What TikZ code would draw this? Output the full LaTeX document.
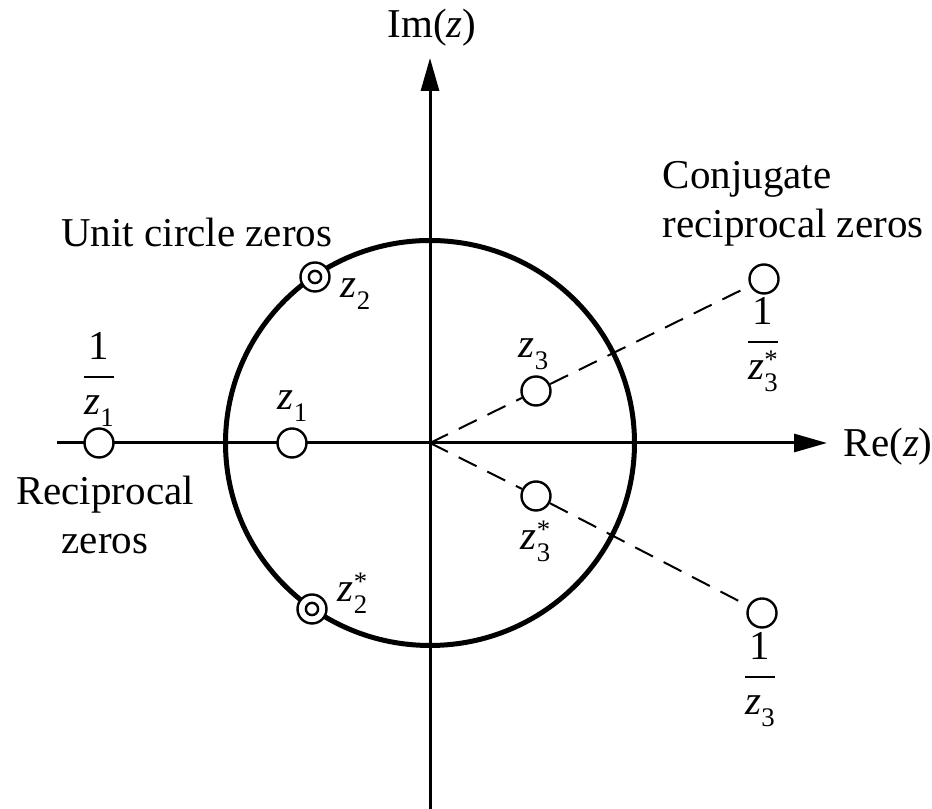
\documentclass[tikz,border=0pt]{standalone}
\usepackage{fontspec}
\setmainfont{Liberation Serif}
\usetikzlibrary{arrows.meta}
\newcommand{\zsym}[2]{\textit{z}\makebox[0pt][l]{\raisebox{0.27em}{\fontsize{6.7}{7}\selectfont #2}}\raisebox{-0.29em}{\fontsize{6.7}{7}\selectfont #1}}
\newcommand{\recip}[1]{$\displaystyle\frac{\textrm{1}}{\hbox{#1}}$}
\begin{document}
\begin{tikzpicture}[x=0.25pt,y=-0.25pt]
\tikzset{
  lab/.style={font=\fontsize{10.25}{12.3}\selectfont, inner sep=0pt},
  axisline/.style={line width=0.75pt, -{Triangle[length=8.25pt,width=4.5pt]}},
  ucirc/.style={line width=1.25pt},
  zero/.style={circle, draw, fill=white, line width=0.6pt, inner sep=0pt, minimum size=7.25pt},
  ringline/.style={line width=0.6pt},
  dashline/.style={line width=0.5pt, dash pattern=on 5pt off 3pt}
}
\useasboundingbox (0,0) rectangle (932,809);
\coordinate (O) at (430,443);
\coordinate (reL) at (57,443);
\coordinate (reR) at (827,443);
\coordinate (imB) at (430,809);
\coordinate (imT) at (430,58);
\draw[axisline] (reL) -- (reR);
\draw[axisline] (imB) -- (imT);
\draw[ucirc] (O) ellipse [x radius=51.125pt, y radius=50.625pt];
% zeros
\node[zero] (z1) at (292,443) {};
\node[zero] (rz1) at (99,443) {};
\node[zero] (z2) at (315,277) {};
\node[zero] (z2c) at (312,609) {};
\draw[ringline] (z2.center) circle[radius=1.53pt];
\draw[ringline] (z2c.center) circle[radius=1.53pt];
\node[zero] (z3) at (536,391) {};
\node[zero] (z3c) at (536,496) {};
\node[zero] (rz3c) at (764,279) {};
\node[zero] (rz3) at (762,613) {};
\draw[dashline] (O) -- (z3);
\draw[dashline] (z3) -- (rz3c);
\draw[dashline] (O) -- (z3c);
\draw[dashline] (z3c) -- (rz3);
% labels
\node[lab, anchor=base] (imlab) at (432,38) {Im(\textit{z})};
\node[lab, anchor=base west] (relab) at (843,457) {Re(\textit{z})};
\node[lab, anchor=base east] (uclab) at (333,247) {Unit circle zeros};
\node[lab, anchor=base west] (z2lab) at (340,298) {\zsym{2}{}};
\node[lab, anchor=base west] (z2clab) at (337,602) {\zsym{2}{*}};
\node[lab, anchor=base west] (z1lab) at (277,410) {\zsym{1}{}};
\node[lab, anchor=base] (rz1lab) at (99,387) {\recip{\zsym{1}{}}};
\node[lab, anchor=base, align=center] (reclab) at (105,554) {Reciprocal\\zeros};
\node[lab, anchor=base west, align=left] (cjlab) at (662,238) {Conjugate\\reciprocal zeros};
\node[lab, anchor=base west] (z3lab) at (518,358) {\zsym{3}{}};
\node[lab, anchor=base west] (z3clab) at (520,550) {\zsym{3}{*}};
\node[lab, anchor=base] (rz3clab) at (763,352) {\recip{\zsym{3}{*}}};
\node[lab, anchor=base] (rz3lab) at (760,687) {\recip{\zsym{3}{}}};
\end{tikzpicture}
\end{document}
